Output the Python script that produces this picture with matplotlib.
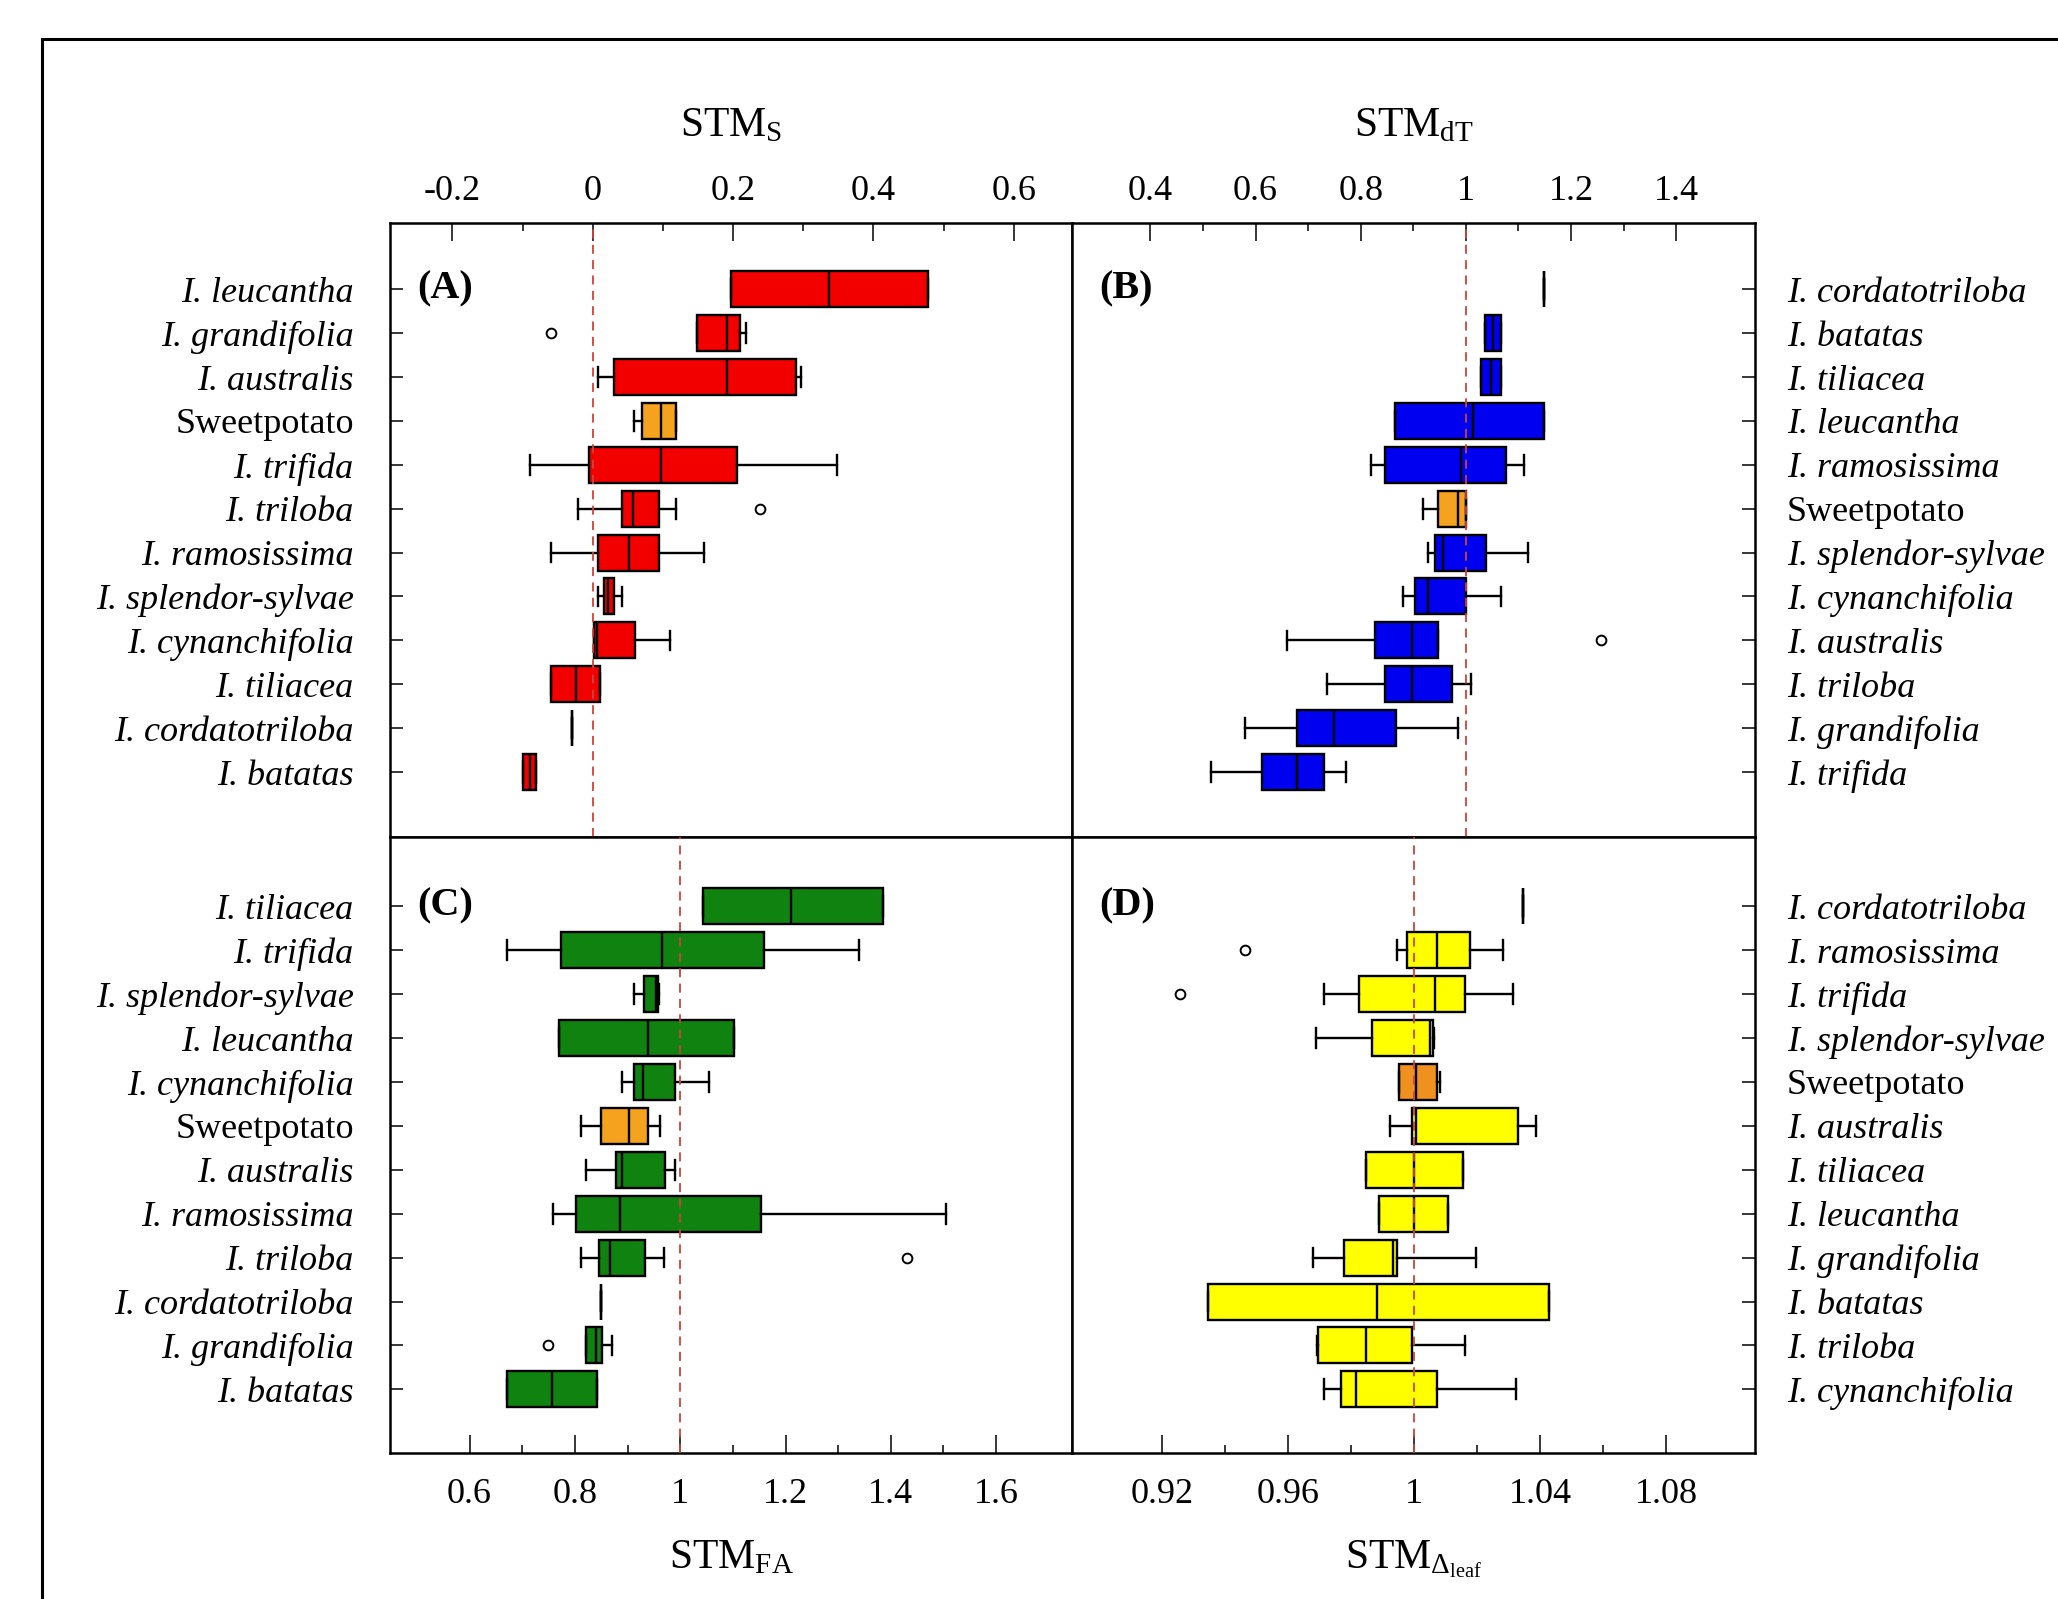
import numpy as np
import matplotlib.pyplot as plt
from matplotlib.patches import Rectangle

plt.rcParams['font.family'] = 'serif'
plt.rcParams['font.serif'] = ['Liberation Serif', 'DejaVu Serif']
plt.rcParams['mathtext.fontset'] = 'custom'
plt.rcParams['mathtext.rm'] = 'Liberation Serif'
plt.rcParams['mathtext.it'] = 'Liberation Serif:italic'
plt.rcParams['mathtext.bf'] = 'Liberation Serif:bold'

# ---- data, top row first ----
# (A) STM_S
names_a = ['I. leucantha', 'I. grandifolia', 'I. australis', 'Sweetpotato', 'I. trifida', 'I. triloba',
           'I. ramosissima', 'I. splendor-sylvae', 'I. cynanchifolia', 'I. tiliacea', 'I. cordatotriloba', 'I. batatas']
q1_a = [0.197, 0.148, 0.030, 0.070, -0.006, 0.041, 0.008, 0.016, 0.002, -0.060, -0.030, -0.100]
med_a = [0.337, 0.192, 0.192, 0.097, 0.097, 0.057, 0.051, 0.022, 0.006, -0.024, -0.030, -0.090]
q3_a = [0.478, 0.2095, 0.289, 0.119, 0.206, 0.095, 0.095, 0.030, 0.060, 0.010, -0.030, -0.081]
lo_a = [0.197, 0.148, 0.008, 0.059, -0.089, -0.021, -0.060, 0.008, 0.002, -0.060, -0.030, -0.100]
hi_a = [0.478, 0.219, 0.2965, 0.119, 0.348, 0.119, 0.159, 0.041, 0.110, 0.010, -0.030, -0.081]
fliers_a = {'I. grandifolia': [-0.060], 'I. triloba': [0.238]}

# (B) STM_dT
names_b = ['I. cordatotriloba', 'I. batatas', 'I. tiliacea', 'I. leucantha', 'I. ramosissima', 'Sweetpotato',
           'I. splendor-sylvae', 'I. cynanchifolia', 'I. australis', 'I. triloba', 'I. grandifolia', 'I. trifida']
q1_b = [1.149, 1.037, 1.028, 0.865, 0.847, 0.948, 0.942, 0.903, 0.827, 0.847, 0.679, 0.613]
med_b = [1.149, 1.052, 1.047, 1.014, 0.990, 0.986, 0.957, 0.929, 0.897, 0.897, 0.749, 0.679]
q3_b = [1.149, 1.067, 1.067, 1.149, 1.077, 1.000, 1.039, 1.000, 0.948, 0.973, 0.868, 0.730]
lo_b = [1.149, 1.037, 1.028, 0.865, 0.819, 0.919, 0.929, 0.880, 0.660, 0.736, 0.580, 0.516]
hi_b = [1.149, 1.067, 1.067, 1.149, 1.111, 1.000, 1.119, 1.067, 0.948, 1.009, 0.986, 0.772]
fliers_b = {'I. australis': [1.258]}

# (C) STM_FA
names_c = ['I. tiliacea', 'I. trifida', 'I. splendor-sylvae', 'I. leucantha', 'I. cynanchifolia', 'Sweetpotato',
           'I. australis', 'I. ramosissima', 'I. triloba', 'I. cordatotriloba', 'I. grandifolia', 'I. batatas']
q1_c = [1.043, 0.773, 0.932, 0.769, 0.913, 0.849, 0.878, 0.802, 0.845, 0.849, 0.821, 0.672]
med_c = [1.210, 0.966, 0.955, 0.938, 0.930, 0.903, 0.889, 0.885, 0.866, 0.849, 0.841, 0.756]
q3_c = [1.385, 1.159, 0.957, 1.102, 0.991, 0.938, 0.972, 1.153, 0.934, 0.849, 0.851, 0.843]
lo_c = [1.043, 0.672, 0.913, 0.769, 0.889, 0.811, 0.821, 0.759, 0.811, 0.849, 0.821, 0.672]
hi_c = [1.385, 1.340, 0.960, 1.102, 1.054, 0.962, 0.990, 1.504, 0.969, 0.849, 0.870, 0.843]
fliers_c = {'I. triloba': [1.431], 'I. grandifolia': [0.749]}

# (D) STM_Delta_leaf
names_d = ['I. cordatotriloba', 'I. ramosissima', 'I. trifida', 'I. splendor-sylvae', 'Sweetpotato', 'I. australis',
           'I. tiliacea', 'I. leucantha', 'I. grandifolia', 'I. batatas', 'I. triloba', 'I. cynanchifolia']
q1_d = [1.0345, 0.9976, 0.9825, 0.9865, 0.9953, 0.9993, 0.9848, 0.9889, 0.9777, 0.9344, 0.9696, 0.9768]
med_d = [1.0345, 1.0074, 1.0067, 1.0050, 1.0007, 1.0007, 1.0000, 1.0000, 0.9932, 0.9882, 0.9848, 0.9815]
q3_d = [1.0345, 1.0179, 1.0163, 1.0060, 1.0074, 1.0331, 1.0156, 1.0107, 0.9947, 1.0429, 0.9993, 1.0074]
lo_d = [1.0345, 0.9947, 0.9713, 0.9687, 0.9953, 0.9922, 0.9848, 0.9889, 0.9680, 0.9344, 0.9692, 0.9713]
hi_d = [1.0345, 1.0281, 1.0315, 1.0064, 1.0081, 1.0388, 1.0156, 1.0107, 1.0195, 1.0429, 1.0163, 1.0323]
fliers_d = {'I. ramosissima': [0.9464], 'I. trifida': [0.9257]}

# axis ticks
ticks_a = [-0.2, 0, 0.2, 0.4, 0.6]
ticklab_a = ['-0.2', '0', '0.2', '0.4', '0.6']
ticks_b = [0.4, 0.6, 0.8, 1.0, 1.2, 1.4]
ticklab_b = ['0.4', '0.6', '0.8', '1', '1.2', '1.4']
ticks_c = [0.6, 0.8, 1.0, 1.2, 1.4, 1.6]
ticklab_c = ['0.6', '0.8', '1', '1.2', '1.4', '1.6']
ticks_d = [0.92, 0.96, 1.0, 1.04, 1.08]
ticklab_d = ['0.92', '0.96', '1', '1.04', '1.08']


W, H = 2058, 1599
fig = plt.figure(figsize=(W / 100, H / 100), dpi=100)

# outer frame (cut by right and bottom edge of the image)
fig.add_artist(Rectangle((42 / W, -0.05), 1.2, 1 - 39 / H + 0.05, transform=fig.transFigure,
                         fill=False, lw=2.2, ec='black'))

x0, x1, x2 = 390, 1072, 1755
y0, y1, y2 = 223, 837, 1453


def px_rect(l, r, t, b):
    return [l / W, 1 - b / H, (r - l) / W, (b - t) / H]


def draw_panel(ax, names, q1, med, q3, lo, hi, fliers, color, sp_color, xlim, ylim,
               ticks, ticklab, ref, letter, xlabel, xside, yside):
    stats = []
    for i in range(len(names)):
        stats.append(dict(q1=q1[i], med=med[i], q3=q3[i], whislo=lo[i], whishi=hi[i],
                          fliers=fliers.get(names[i], [])))
    pos = np.arange(len(names))
    res = ax.bxp(stats, positions=pos, widths=0.82, capwidths=0.45, orientation='horizontal',
                 patch_artist=True, manage_ticks=False, showfliers=True,
                 boxprops=dict(lw=1.7, edgecolor='black'),
                 medianprops=dict(lw=1.7, color='black'),
                 whiskerprops=dict(lw=1.7, color='black'),
                 capprops=dict(lw=1.7, color='black'),
                 flierprops=dict(marker='o', mfc='none', mec='black', ms=7, mew=1.4))
    for name, box in zip(names, res['boxes']):
        box.set_facecolor(sp_color if name == 'Sweetpotato' else color)

    ax.axvline(ref, color='#C8453A', lw=1.3, ls=(0, (5, 3.5)), zorder=5)

    ax.set_xlim(*xlim)
    ax.set_ylim(*ylim)
    ax.set_xticks(ticks)
    ax.set_xticklabels(ticklab)
    t = np.array(ticks)
    ax.set_xticks((t[:-1] + t[1:]) / 2, minor=True)
    ax.set_yticks(pos)
    ax.set_yticklabels(names)

    ax.tick_params(axis='x', which='both', direction='in', labelsize=26, width=1.1,
                   top=(xside == 'top'), bottom=(xside == 'bottom'),
                   labeltop=(xside == 'top'), labelbottom=(xside == 'bottom'))
    ax.tick_params(axis='x', which='major', length=13, pad=11 if xside == 'top' else 18)
    ax.tick_params(axis='x', which='minor', length=6)
    ax.tick_params(axis='y', which='major', direction='in', length=9.5, width=1.1,
                   pad=26 if yside == 'left' else 23, labelsize=26,
                   left=(yside == 'left'), right=(yside == 'right'),
                   labelleft=(yside == 'left'), labelright=(yside == 'right'))
    for tk in ax.yaxis.get_major_ticks():
        for lab in (tk.label1, tk.label2):
            lab.set_fontstyle('normal' if lab.get_text() == 'Sweetpotato' else 'italic')

    ax.xaxis.set_label_position(xside)
    ax.set_xlabel(xlabel, fontsize=30, labelpad=28 if xside == 'top' else 20)
    for sp in ax.spines.values():
        sp.set_linewidth(1.8)

    ax.text(0.04, 0, letter, transform=ax.get_yaxis_transform(), fontsize=29,
            fontweight='bold', ha='left', va='center')


ax_a = fig.add_axes(px_rect(x0, x1, y0, y1))
ax_b = fig.add_axes(px_rect(x1, x2, y0, y1))
ax_c = fig.add_axes(px_rect(x0, x1, y1, y2))
ax_d = fig.add_axes(px_rect(x1, x2, y1, y2))

draw_panel(ax_a, names_a, q1_a, med_a, q3_a, lo_a, hi_a, fliers_a, '#F20000', '#F5A21E',
           (-0.289, 0.683), (12.48, -1.51), ticks_a, ticklab_a, 0.0, '(A)',
           r'STM$_{\mathrm{S}}$', 'top', 'left')
draw_panel(ax_b, names_b, q1_b, med_b, q3_b, lo_b, hi_b, fliers_b, '#0000F0', '#F5A21E',
           (0.251, 1.55), (12.48, -1.51), ticks_b, ticklab_b, 1.0, '(B)',
           r'STM$_{\mathrm{dT}}$', 'top', 'right')
draw_panel(ax_c, names_c, q1_c, med_c, q3_c, lo_c, hi_c, fliers_c, '#0F820F', '#F5A21E',
           (0.449, 1.744), (12.45, -1.58), ticks_c, ticklab_c, 1.0, '(C)',
           r'STM$_{\mathrm{FA}}$', 'bottom', 'left')
draw_panel(ax_d, names_d, q1_d, med_d, q3_d, lo_d, hi_d, fliers_d, '#FFFF00', '#F0901E',
           (0.8913, 1.1083), (12.45, -1.58), ticks_d, ticklab_d, 1.0, '(D)',
           r'STM$_{\Delta_{\mathrm{leaf}}}$', 'bottom', 'right')

fig.savefig('out.png', dpi=100)
